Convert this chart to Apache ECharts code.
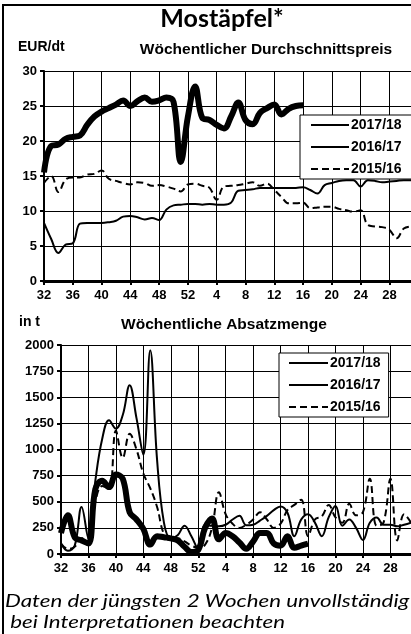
<!DOCTYPE html>
<html>
<head>
<meta charset="utf-8">
<script src="https://cdn.jsdelivr.net/npm/echarts@6/dist/echarts.min.js"></script>
<style>
html,body{margin:0;padding:0;background:#fff;}
#chart{width:411px;height:634px;}
</style>
</head>
<body>
<div id="chart"></div>
<script>
// Kalenderwochen 32..52, 1..31
var weeks = [];
for (var w = 32; w <= 52; w++) weeks.push(String(w));
for (var w2 = 1; w2 <= 31; w2++) weeks.push(String(w2));

var seriesNames = ['2017/18', '2016/17', '2015/16'];

// Wöchentlicher Durchschnittspreis (EUR/dt)
var price1718 = [15.5, 19.3, 19.5, 20.3, 20.6, 20.8, 22.3, 23.5, 24.2, 24.7, 25.2, 25.8, 25.0, 25.7, 26.2, 25.6, 25.8, 26.2, 25.6, 17.0,
	23.5, 27.8, 23.3, 23.0, 22.3, 21.8, 23.5, 25.5, 23.0, 22.4, 24.0, 24.7, 25.2, 23.8, 24.6, 25.0, 25.1];
var price1617 = [8.3, 6.0, 4.0, 5.2, 5.4, 8.2, 8.3, 8.3, 8.3, 8.4, 8.6, 9.2, 9.3, 9.1, 8.8, 9.0, 8.7, 10.2, 10.8, 10.9, 11.0,
	11.0, 10.9, 11.0, 10.9, 10.9, 11.2, 12.9, 13.0, 13.1, 13.3, 13.3, 13.3, 13.3, 13.3, 13.3, 13.4, 13.0, 12.5, 13.7, 14.0,
	14.3, 14.4, 14.4, 13.5, 14.4, 14.3, 14.1, 14.2, 14.3, 14.4, 14.4];
var price1516 = [14.0, 15.0, 12.7, 14.5, 14.8, 14.8, 15.2, 15.3, 15.8, 14.6, 14.3, 14.0, 13.8, 14.1, 14.0, 13.6, 13.7, 13.5, 13.2, 12.8, 13.8,
	13.9, 13.6, 13.3, 11.6, 13.5, 13.6, 13.7, 13.9, 14.1, 13.6, 13.9, 13.0, 12.0, 11.1, 11.1, 11.2, 10.4, 10.5, 10.6, 10.6,
	10.3, 10.1, 9.9, 10.1, 8.0, 7.8, 7.7, 7.3, 6.1, 7.5, 7.8];

// Wöchentliche Absatzmenge (t)
var menge1718 = [200, 370, 160, 130, 100, 620, 700, 640, 760, 720, 400, 330, 240, 90, 170, 160, 150, 130, 70, 20, 40,
	250, 340, 140, 200, 170, 110, 50, 120, 200, 200, 100, 80, 170, 60, 80, 100];
var menge1617 = [100, 30, 80, 450, 150, 700, 1100, 1280, 1200, 1330, 1615, 1300, 950, 1950, 900, 300, 150, 180, 270, 170, 50,
	280, 270, 265, 280, 330, 365, 275, 280, 320, 365, 420, 455, 395, 170, 330, 380, 300, 170, 350, 460,
	270, 330, 250, 135, 300, 350, 280, 280, 265, 280, 300];
var menge1516 = [100, 50, 70, 150, 150, 500, 650, 620, 1180, 920, 1150, 1000, 770, 630, 450, 190, 130, 150, 120, 80, 60,
	90, 250, 590, 380, 290, 250, 280, 330, 400, 330, 250, 290, 420, 470, 520, 170, 330, 360, 470, 350,
	300, 480, 370, 400, 720, 270, 300, 720, 130, 380, 300];

var chartInstance = echarts.init(document.getElementById('chart'));

var labelFont = {color: '#000', fontSize: 13, fontWeight: 'bold', fontFamily: 'Liberation Sans, Arial'};

function xAxisFor(gridIndex) {
	return {
		type: 'category',
		gridIndex: gridIndex,
		data: weeks,
		boundaryGap: false,
		axisLine: {lineStyle: {color: '#000', width: 3}},
		axisTick: {show: true, interval: 3, length: 4, lineStyle: {color: '#000', width: 2}},
		axisLabel: Object.assign({interval: 3, margin: 8}, labelFont),
		splitLine: {show: true, interval: 3, lineStyle: {color: '#000', width: 1}}
	};
}

function yAxisFor(gridIndex, max, step) {
	return {
		type: 'value',
		gridIndex: gridIndex,
		min: 0,
		max: max,
		interval: step,
		axisLine: {show: true, lineStyle: {color: '#000', width: 2}},
		axisTick: {show: true, length: 4, lineStyle: {color: '#000', width: 2}},
		axisLabel: Object.assign({margin: 7, formatter: function (v) { return String(v); }}, labelFont),
		splitLine: {show: true, lineStyle: {color: '#000', width: 1}}
	};
}

function lineSeries(name, data, axisIdx, width, dashed) {
	return {
		name: name,
		type: 'line',
		xAxisIndex: axisIdx,
		yAxisIndex: axisIdx,
		data: data,
		smooth: 0.4,
		symbol: 'none',
		color: '#000',
		itemStyle: {color: '#000'},
		lineStyle: {color: '#000', width: width, type: dashed ? [7, 4] : 'solid'},
		z: dashed ? 2 : (width > 3 ? 4 : 3)
	};
}

function legendAt(left, top, padding, itemWidth) {
	return {
		orient: 'vertical',
		left: left,
		top: top,
		data: seriesNames,
		padding: padding,
		itemGap: 8,
		itemWidth: itemWidth,
		itemHeight: 14,
		backgroundColor: '#fff',
		borderColor: '#000',
		borderWidth: 1,
		selectedMode: false,
		itemStyle: {opacity: 0},
		textStyle: {color: '#000', fontSize: 14, fontWeight: 'bold', fontFamily: 'Liberation Sans, Arial', padding: [0, 0, 0, -3]}
	};
}

var option = {
	backgroundColor: '#fff',
	animation: false,
	grid: [
		{left: 44, right: -10, top: 71, bottom: 353},
		{left: 61, right: -9, top: 345, bottom: 80}
	],
	xAxis: [xAxisFor(0), xAxisFor(1)],
	yAxis: [yAxisFor(0, 30, 5), yAxisFor(1, 2000, 250)],
	legend: [
		legendAt(300, 115, [3, 30, 3, 10], 38),
		legendAt(279, 353, [3, 8, 3, 9], 39)
	],
	series: [
		lineSeries('2015/16', price1516, 0, 2, true),
		lineSeries('2016/17', price1617, 0, 2, false),
		lineSeries('2017/18', price1718, 0, 6, false),
		lineSeries('2015/16', menge1516, 1, 2, true),
		lineSeries('2016/17', menge1617, 1, 2, false),
		lineSeries('2017/18', menge1718, 1, 6, false)
	],
	graphic: [
		{type: 'rect', shape: {x: 3, y: 5, width: 430, height: 650}, style: {fill: 'none', stroke: '#000', lineWidth: 2}, z: 100},
		{type: 'text', x: 222, y: 19, style: {text: 'Mostäpfel*', textAlign: 'center', textVerticalAlign: 'middle',
			font: 'bold 25px Lato, sans-serif', fill: '#000'}},
		{type: 'text', x: 18, y: 47, style: {text: 'EUR/dt', textVerticalAlign: 'middle',
			font: 'bold 14px "Liberation Sans", Arial', fill: '#000'}},
		{type: 'text', x: 266, y: 50, style: {text: 'Wöchentlicher Durchschnittspreis', textAlign: 'center', textVerticalAlign: 'middle',
			font: 'bold 15.5px "Liberation Sans", Arial', fill: '#000'}},
		{type: 'text', x: 19, y: 322, style: {text: 'in t', textVerticalAlign: 'middle',
			font: 'bold 14px "Liberation Sans", Arial', fill: '#000'}},
		{type: 'text', x: 224, y: 325, style: {text: 'Wöchentliche Absatzmenge', textAlign: 'center', textVerticalAlign: 'middle',
			font: 'bold 15.5px "Liberation Sans", Arial', fill: '#000'}},
		{type: 'text', x: 5, y: 601, scaleX: 1.24, style: {text: 'Daten der jüngsten 2 Wochen unvollständig', textVerticalAlign: 'middle',
			font: 'italic 18px Lato, sans-serif', fill: '#000'}},
		{type: 'text', x: 5, y: 622, scaleX: 1.24, style: {text: ' bei Interpretationen beachten', textVerticalAlign: 'middle',
			font: 'italic 18px Lato, sans-serif', fill: '#000'}}
	]
};

chartInstance.setOption(option);
</script>
</body>
</html>
